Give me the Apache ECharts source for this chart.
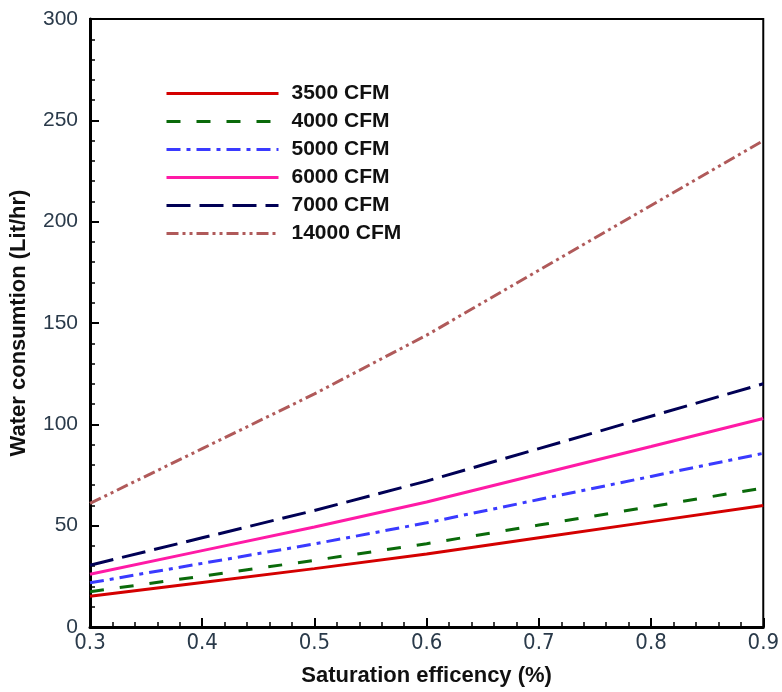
<!DOCTYPE html>
<html>
<head>
<meta charset="utf-8">
<script src="https://cdn.jsdelivr.net/npm/echarts@6/dist/echarts.min.js"></script>
<style>
  html, body { margin: 0; padding: 0; background: #fff; }
  #chart { width: 782px; height: 692px; }
</style>
</head>
<body>
<div id="chart"></div>
<script>
// saturation efficiency (x)
const efficiency = [0.3, 0.4, 0.5, 0.6, 0.7, 0.8, 0.9];
// water consumption in Lit/hr
const cfm3500 = [15.2, 22.0, 28.8, 36.0, 44.0, 52.0, 60.0];
const cfm4000 = [17.4, 25.1, 32.9, 41.1, 50.3, 59.4, 68.6];
const cfm5000 = [21.8, 31.4, 41.0, 51.4, 62.9, 74.3, 85.7];
const cfm6000 = [26.0, 37.7, 49.3, 61.7, 75.4, 89.1, 102.9];
const cfm7000 = [30.5, 44.0, 57.5, 72.0, 88.0, 104.0, 120.0];
const cfm14000 = [61.0, 88.0, 115.0, 144.0, 176.0, 208.0, 240.0];
const seriesNames = ['3500 CFM', '4000 CFM', '5000 CFM', '6000 CFM', '7000 CFM', '14000 CFM'];

const chart = echarts.init(document.getElementById('chart'));

const pairs = vals => efficiency.map((x, i) => [x, vals[i]]);
const mk = (name, vals, color, type) => ({
  name: name,
  type: 'line',
  symbol: 'none',
  data: pairs(vals),
  lineStyle: { color: color, width: 3, type: type },
  itemStyle: { color: color }
});

chart.setOption({
  animation: false,
  grid: {
    left: 88, right: 14, top: 19, bottom: 58,
    show: true, borderColor: '#000', borderWidth: 2
  },
  legend: {
    orient: 'vertical',
    left: 160, top: 78,
    itemWidth: 112, itemHeight: 12, itemGap: 7,
    data: seriesNames,
    itemStyle: { opacity: 0 },
    lineStyle: { width: 3 },
    textStyle: { fontSize: 21, fontWeight: 'bold', color: '#111', fontFamily: 'Liberation Sans', padding: [0, 0, 0, 8] }
  },
  xAxis: {
    type: 'value', min: 0.3, max: 0.9, interval: 0.1,
    name: 'Saturation efficency (%)', nameLocation: 'middle', nameGap: 38,
    nameTextStyle: { fontSize: 22, fontWeight: 'bold', color: '#111', fontFamily: 'Liberation Sans' },
    axisLine: { lineStyle: { color: '#000', width: 3 } },
    axisTick: { inside: true, length: 9, lineStyle: { color: '#000', width: 2 } },
    minorTick: { show: true, splitNumber: 5, length: 5, lineStyle: { color: '#000', width: 1.5 } },
    splitLine: { show: false },
    axisLabel: {
      fontSize: 22, color: '#2a3a4a', fontFamily: 'DejaVu Sans Condensed, Liberation Sans', margin: 5,
      formatter: v => v.toFixed(1)
    }
  },
  yAxis: {
    type: 'value', min: 0, max: 300, interval: 50,
    name: 'Water consumtion (Lit/hr)', nameLocation: 'middle', nameGap: 60,
    nameTextStyle: { fontSize: 22, fontWeight: 'bold', color: '#111', fontFamily: 'Liberation Sans' },
    axisLine: { lineStyle: { color: '#000', width: 3 } },
    axisTick: { inside: true, length: 9, lineStyle: { color: '#000', width: 2 } },
    minorTick: { show: true, splitNumber: 5, length: 5, lineStyle: { color: '#000', width: 1.5 } },
    splitLine: { show: false },
    axisLabel: { fontSize: 21, color: '#2a3a4a', fontFamily: 'Liberation Sans', margin: 12 }
  },
  series: [
    mk(seriesNames[0], cfm3500, '#d40000', 'solid'),
    mk(seriesNames[1], cfm4000, '#0a6a0a', [14, 16]),
    mk(seriesNames[2], cfm5000, '#3a3aff', [14, 6, 4, 6]),
    mk(seriesNames[3], cfm6000, '#ff1aa6', 'solid'),
    mk(seriesNames[4], cfm7000, '#000055', [24, 9]),
    mk(seriesNames[5], cfm14000, '#b05a5a', [12, 4, 3, 4, 3, 4])
  ]
});
</script>
</body>
</html>
